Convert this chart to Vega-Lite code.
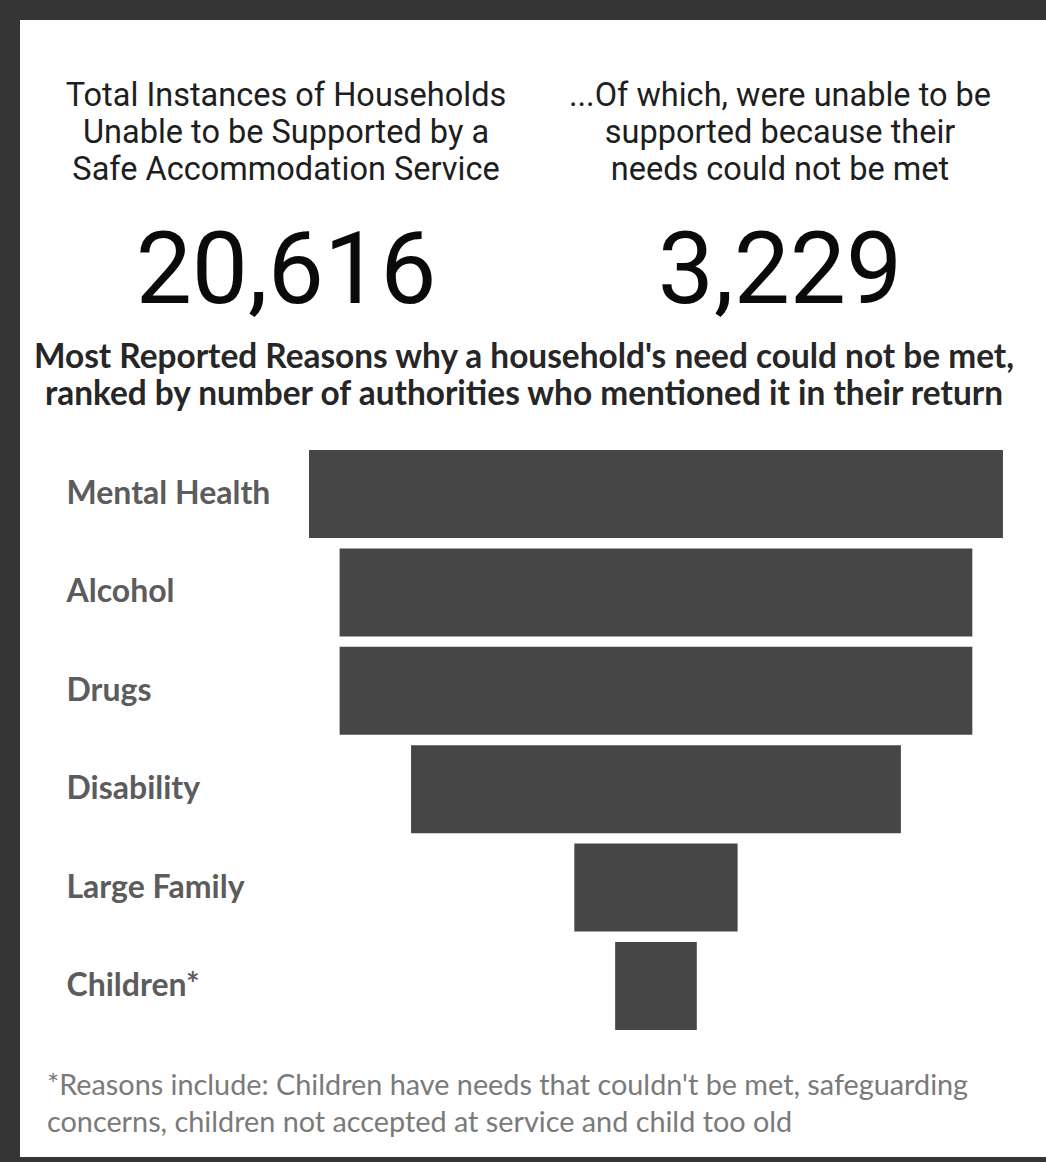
{
  "$schema": "https://vega.github.io/schema/vega-lite/v6.json",
  "background": "#353535",
  "padding": {"left": 20, "top": 20, "right": 0, "bottom": 5},
  "bounds": "flush",
  "spacing": 0,
  "config": {
    "view": {"fill": "white", "stroke": null},
    "concat": {"spacing": 0}
  },
  "datasets": {
    "kpi": [
      {"metric": "total", "label": "Total Instances of Households\nUnable to be Supported by a\nSafe Accommodation Service", "value": 20616},
      {"metric": "unmet", "label": "...Of which, were unable to be\nsupported because their\nneeds could not be met", "value": 3229}
    ],
    "heading": [
      {"heading": "Most Reported Reasons why a household's need could not be met,\nranked by number of authorities who mentioned it in their return"}
    ],
    "reasons": [
      {"reason": "Mental Health", "authorities": 34},
      {"reason": "Alcohol", "authorities": 31},
      {"reason": "Drugs", "authorities": 31},
      {"reason": "Disability", "authorities": 24},
      {"reason": "Large Family", "authorities": 8},
      {"reason": "Children*", "authorities": 4}
    ]
  },
  "vconcat": [
    {
      "width": 1026,
      "height": 172,
      "data": {"name": "kpi"},
      "mark": {"type": "text", "font": "Roboto", "fontSize": 32.5, "lineHeight": 37, "lineBreak": "\n", "baseline": "alphabetic", "align": "center", "color": "#1e1e1e"},
      "encoding": {
        "x": {"field": "metric", "type": "nominal", "sort": null, "scale": {"type": "point", "range": [266, 760], "padding": 0}, "axis": null},
        "text": {"field": "label"}
      }
    },
    {
      "width": 1026,
      "height": 128,
      "data": {"name": "kpi"},
      "mark": {"type": "text", "font": "Roboto", "fontSize": 100, "lineHeight": 36, "baseline": "line-top", "align": "center", "color": "#0a0a0a"},
      "encoding": {
        "x": {"field": "metric", "type": "nominal", "sort": null, "scale": {"type": "point", "range": [266, 760], "padding": 0}, "axis": null},
        "text": {"field": "value", "type": "quantitative", "format": ","}
      }
    },
    {
      "width": 1026,
      "height": 96,
      "data": {"name": "heading"},
      "mark": {"type": "text", "font": "Lato", "fontWeight": "bold", "fontSize": 33.4, "lineHeight": 37, "lineBreak": "\n", "baseline": "alphabetic", "align": "center", "color": "#262626"},
      "encoding": {
        "x": {"field": "heading", "type": "nominal", "scale": {"type": "point", "range": [504, 504], "padding": 0}, "axis": null},
        "text": {"field": "heading"}
      }
    },
    {
      "width": 1026,
      "height": 741,
      "data": {"name": "reasons"},
      "title": {
        "text": ["*Reasons include: Children have needs that couldn't be met, safeguarding", "concerns, children not accepted at service and child too old"],
        "orient": "bottom",
        "anchor": "start",
        "frame": "group",
        "offset": -85,
        "dx": 27,
        "font": "Lato",
        "fontSize": 28.8,
        "fontWeight": "normal",
        "lineHeight": 37,
        "color": "#7a7a7a",
        "zindex": 1
      },
      "mark": {"type": "bar", "color": "#464646"},
      "encoding": {
        "x": {"field": "authorities", "type": "quantitative", "stack": "center", "scale": {"domain": [-14.16, 36.11], "nice": false, "zero": false}, "axis": null},
        "y": {
          "field": "reason", "type": "nominal", "sort": null,
          "scale": {"paddingInner": 0.106, "paddingOuter": 0.8181, "align": 0.2112},
          "axis": {"title": null, "domain": false, "ticks": false, "tickSize": 0, "labelPadding": -46, "labelAlign": "left", "labelBaseline": "middle", "labelFont": "Lato", "labelFontWeight": "bold", "labelFontSize": 32, "labelColor": "#5c5c5c", "labelLimit": 0}
        }
      }
    }
  ]
}
